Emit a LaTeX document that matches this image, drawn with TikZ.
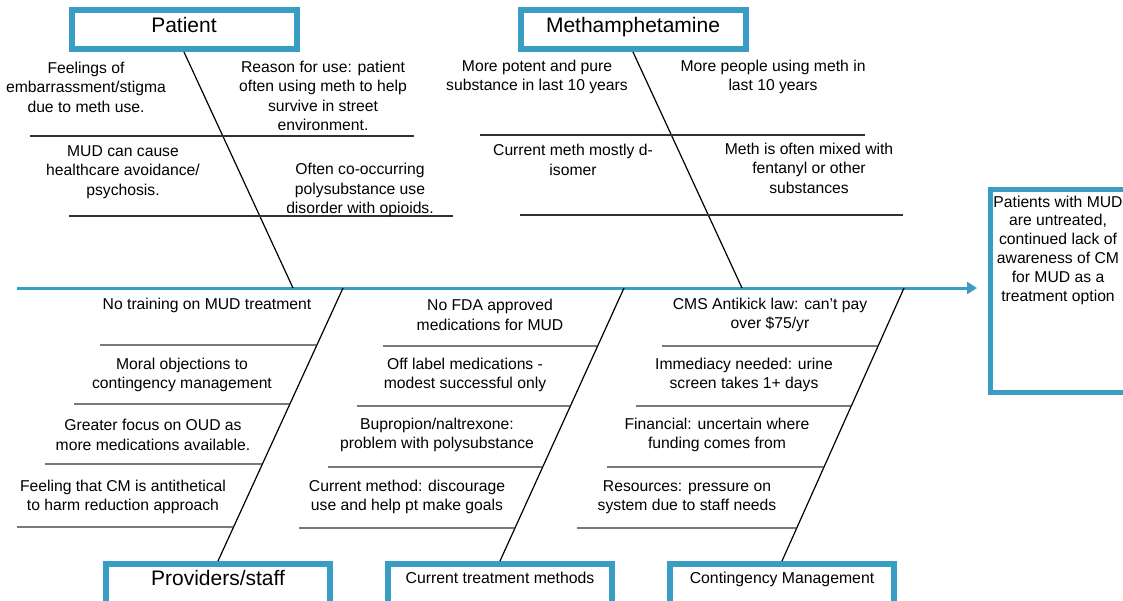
\documentclass[tikz,border=0pt]{standalone}
\usepackage{fontspec}
\setmainfont{Liberation Sans}
\usetikzlibrary{arrows.meta,calc}
\definecolor{fishblue}{RGB}{57,157,196}
\definecolor{subgray}{RGB}{50,50,50}
\newcommand\lowbone[4]{\draw[subbone] (#1,#2) -- ($(#3)!{(#2-288)/273}!(#4)$);}
\begin{document}
\begin{tikzpicture}[x=1pt,y=-1pt,
  topbox/.style={draw=fishblue,line width=6pt,fill=white,inner xsep=0pt,inner ysep=0pt,
    minimum width=225pt,text height=22pt,text depth=17pt,font=\fontsize{21}{25}\selectfont},
  botbox/.style={draw=fishblue,line width=6pt,fill=white,inner xsep=0pt,inner ysep=0pt,
    minimum width=224pt,text depth=30pt,anchor=north,font=\fontsize{15.8}{19}\selectfont},
  outbox/.style={draw=fishblue,line width=5pt,fill=white,inner sep=0pt},
  cause/.style={align=center,inner sep=0pt,font=\fontsize{15.7}{19.4}\selectfont},
  outtext/.style={align=center,inner sep=0pt,font=\fontsize{15.7}{18.8}\selectfont},
  spine/.style={draw=fishblue,line width=3pt,-{Triangle[length=10pt,width=12pt]}},
  bone/.style={draw=black,line width=1.2pt},
  subbone/.style={draw=subgray,line width=1.4pt}]
\useasboundingbox (0,0) rectangle (1123,600);
\fill[white] (0,0) rectangle (1123,600);

% category boxes
\node[topbox] (pat) at (184,29.5) {Patient};
\node[topbox] (meth) at (633,29.5) {Methamphetamine};
\node[botbox,text height=21pt,font=\fontsize{21}{25}\selectfont] (prov) at (218,561) {Providers/staff};
\node[botbox,text height=19pt] (cur) at (500,561) {Current treatment methods};
\node[botbox,text height=19pt] (cm) at (782,561) {Contingency Management};

% outcome box
\node[outbox,anchor=north west,minimum width=137pt,minimum height=203pt] (out) at (988,187) {};
\node[outtext] (outtxt) at (1058,250) {Patients with MUD\\are untreated,\\continued lack of\\awareness of CM\\for MUD as a\\treatment option};

% spine
\coordinate (tail) at (17,288);
\coordinate (sp1) at (293,288);
\coordinate (sp2) at (742,288);
\coordinate (sp3) at (343,288);
\coordinate (sp4) at (624,288);
\coordinate (sp5) at (904,288);
\draw[spine,shorten >=11pt] (tail) -- (out.west |- tail);

% bones
\draw[bone] (pat.south) -- (sp1);
\draw[bone] (meth.south) -- (sp2);
\draw[bone] (sp3) -- (prov.north);
\draw[bone] (sp4) -- (cur.north);
\draw[bone] (sp5) -- (cm.north);

% upper sub-bones
\draw[subbone] (30,136) -- (414,136);
\draw[subbone] (69,216) -- (453,216);
\draw[subbone] (480,135) -- (865,135);
\draw[subbone] (520,215) -- (903,215);

% lower sub-bones
\lowbone{100}{345}{sp3}{prov.north}
\lowbone{74}{404}{sp3}{prov.north}
\lowbone{45}{464}{sp3}{prov.north}
\lowbone{17}{527}{sp3}{prov.north}
\lowbone{383}{346}{sp4}{cur.north}
\lowbone{357}{406}{sp4}{cur.north}
\lowbone{328}{467}{sp4}{cur.north}
\lowbone{299}{528}{sp4}{cur.north}
\lowbone{662}{346}{sp5}{cm.north}
\lowbone{636}{406}{sp5}{cm.north}
\lowbone{607}{467}{sp5}{cm.north}
\lowbone{577}{528}{sp5}{cm.north}

% patient causes
\node[cause] (a1) at (86,87) {Feelings of\\embarrassment/stigma\\due to meth use.};
\node[cause] (a2) at (323,96) {Reason for use: patient\\often using meth to help\\survive in street\\environment.};
\node[cause] (a3) at (123,172) {MUD can cause\\healthcare avoidance/\\psychosis.};
\node[cause] (a4) at (360,190) {Often co-occurring\\polysubstance use\\disorder with opioids.};

% methamphetamine causes
\node[cause] (b1) at (537,77) {More potent and pure\\substance in last 10 years};
\node[cause] (b2) at (773,77) {More people using meth in\\last 10 years};
\node[cause] (b3) at (573,160) {Current meth mostly d-\\isomer};
\node[cause] (b4) at (809,168) {Meth is often mixed with\\fentanyl or other\\substances};

% providers causes
\node[cause] (c1) at (207,305) {No training on MUD treatment};
\node[cause] (c2) at (182,375) {Moral objections to\\contingency management};
\node[cause] (c3) at (153,435) {Greater focus on OUD as\\more medications available.};
\node[cause] (c4) at (123,497) {Feeling that CM is antithetical\\to harm reduction approach};

% current treatment causes
\node[cause] (d1) at (490,315) {No FDA approved\\medications for MUD};
\node[cause] (d2) at (465,375) {Off label medications -\\modest successful only};
\node[cause] (d3) at (437,435) {Bupropion/naltrexone:\\problem with polysubstance};
\node[cause] (d4) at (407,497) {Current method: discourage\\use and help pt make goals};

% contingency management causes
\node[cause] (e1) at (770,315) {CMS Antikick law: can't pay\\over \$75/yr};
\node[cause] (e2) at (744,375) {Immediacy needed: urine\\screen takes 1+ days};
\node[cause] (e3) at (717,435) {Financial: uncertain where\\funding comes from};
\node[cause] (e4) at (687,497) {Resources: pressure on\\system due to staff needs};
\end{tikzpicture}
\end{document}
